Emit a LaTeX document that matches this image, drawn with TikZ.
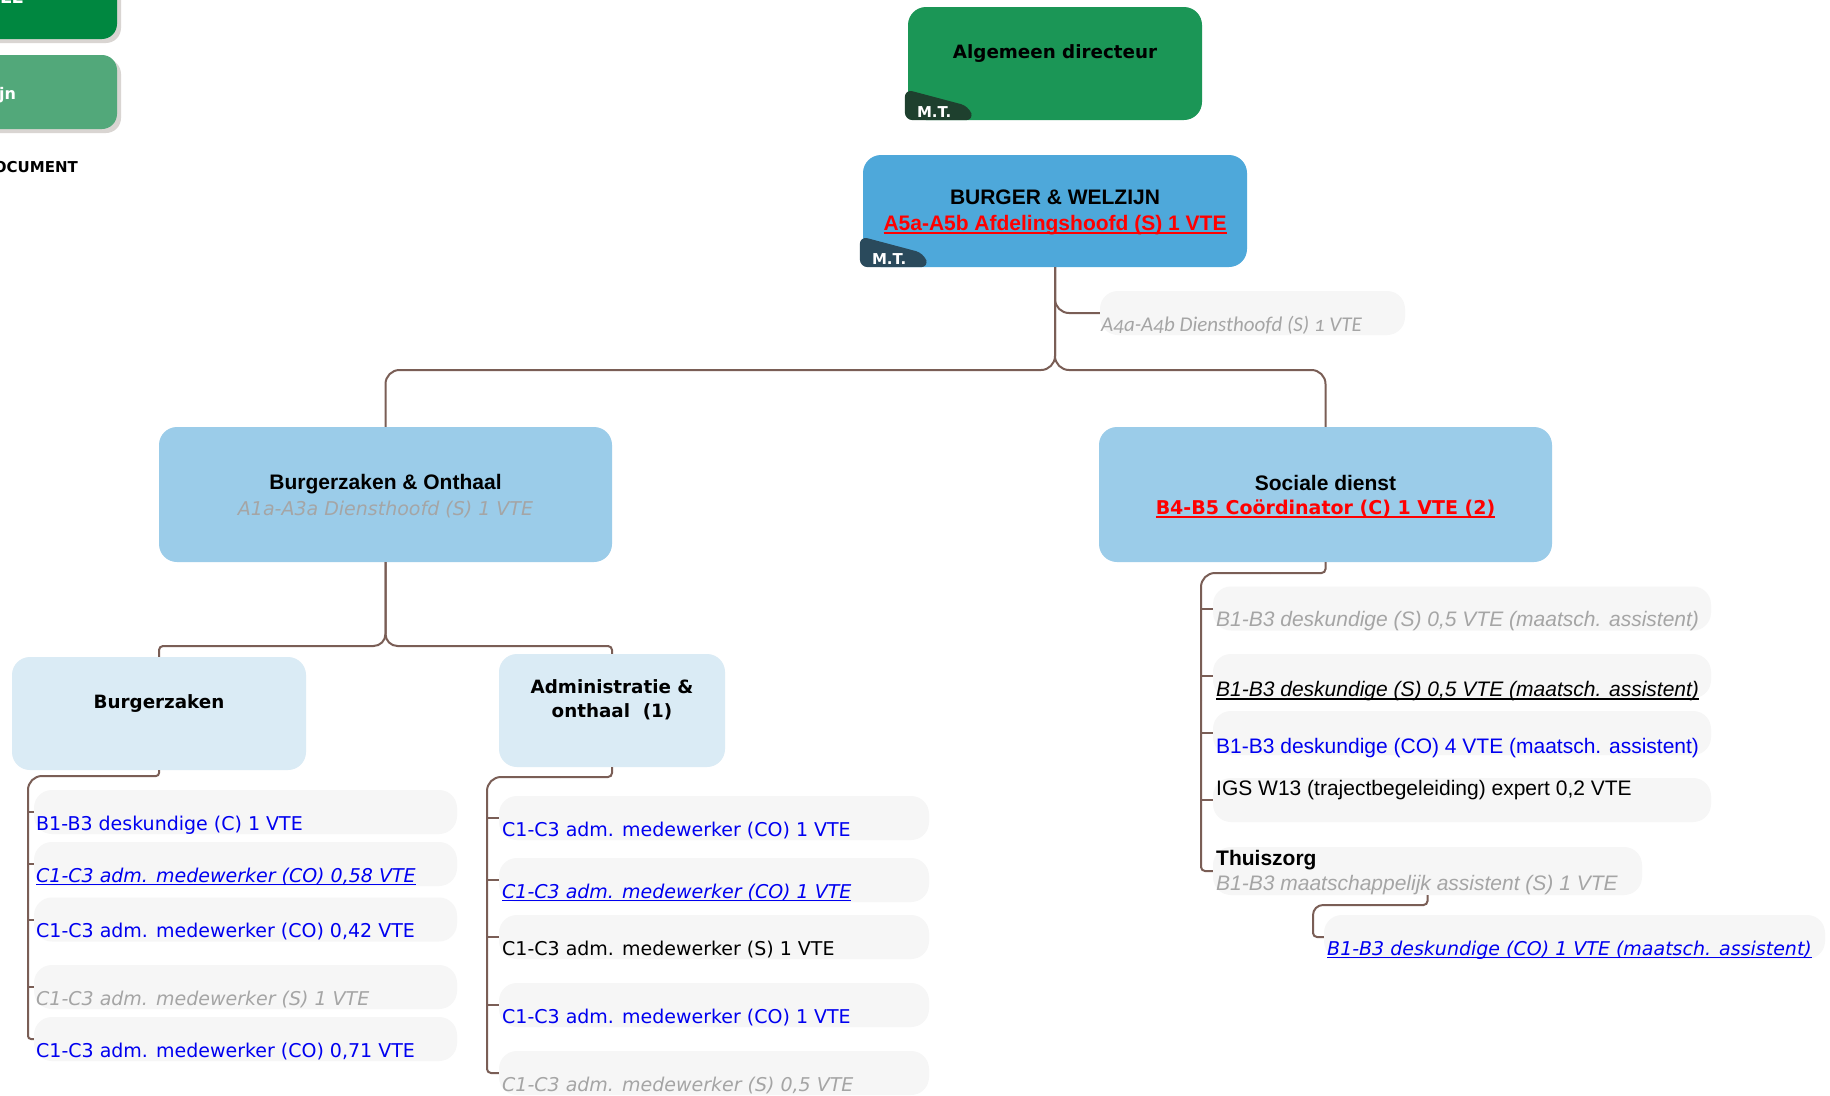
\documentclass[tikz,border=0pt]{standalone}
\usepackage{fontspec}

\newfontfamily\arialfont{Liberation Sans}
\newfontfamily\verdanafont{DejaVu Sans}
\newfontfamily\calibrifont[Numbers=OldStyle]{Carlito}

\definecolor{adgreen}{RGB}{27,150,86}
\definecolor{legenddark}{RGB}{0,135,64}
\definecolor{legendlight}{RGB}{82,168,122}
\definecolor{legendshadow}{RGB}{217,213,210}
\definecolor{badgegreen}{RGB}{30,64,46}
\definecolor{badgeblue}{RGB}{42,74,92}
\definecolor{bwblue}{RGB}{78,168,218}
\definecolor{deptblue}{RGB}{155,204,233}
\definecolor{unitblue}{RGB}{218,235,245}
\definecolor{itemgrey}{RGB}{246,246,246}
\definecolor{linkbrown}{RGB}{122,94,86}
\definecolor{vteblue}{RGB}{0,0,240}
\definecolor{vtegrey}{RGB}{165,165,165}
\definecolor{vtered}{RGB}{255,0,0}

% underline close to the baseline
\newsavebox\ulbox
\newcommand{\ulined}[1]{\sbox\ulbox{#1}\rlap{\rule[-3.3pt]{\wd\ulbox}{1.6pt}}\usebox\ulbox}

\begin{document}
\begin{tikzpicture}[x=1pt, y=-1pt,
    legendbox/.style={rectangle, rounded corners=15pt, inner sep=0pt},
    adbox/.style={rectangle, fill=adgreen, rounded corners=18pt, minimum width=294pt, minimum height=113pt, inner sep=0pt},
    bwbox/.style={rectangle, fill=bwblue, rounded corners=18pt, minimum width=384pt, minimum height=112pt, inner sep=0pt},
    deptbox/.style={rectangle, fill=deptblue, rounded corners=18pt, minimum width=453pt, minimum height=135pt, inner sep=0pt},
    unitbox/.style={rectangle, fill=unitblue, rounded corners=18pt, minimum height=113pt, inner sep=0pt},
    itembox/.style={rectangle, fill=itemgrey, rounded corners=18pt, minimum height=44pt, inner sep=0pt},
    link/.style={draw=linkbrown, line width=2pt},
    adtitle/.style={font=\verdanafont\bfseries\fontsize{18.3}{22}\selectfont, anchor=base, inner sep=0pt},
    deptitle/.style={font=\arialfont\bfseries\fontsize{21}{25}\selectfont, anchor=base, inner sep=0pt},
    badgetext/.style={font=\verdanafont\bfseries\fontsize{15}{18}\selectfont, text=white, anchor=base west, inner sep=0pt},
    vitem/.style={font=\verdanafont\fontsize{19}{23}\selectfont, anchor=base west, inner sep=0pt},
    aitem/.style={font=\arialfont\fontsize{21}{25}\selectfont, anchor=base west, inner sep=0pt},
    calitem/.style={font=\calibrifont\fontsize{21}{25}\selectfont, anchor=base west, inner sep=0pt}
]
\useasboundingbox (0,0) rectangle (1830,1095);
\fill[white] (0,0) rectangle (1830,1095);

% Legend (cut off at the left)
\fill[legendshadow, rounded corners=15pt] (-40,-30) rectangle (121,43);
\node[legendbox, fill=legenddark, minimum width=157pt, minimum height=69pt] (legtop) at (38.5,4.5) {};
\node[badgetext, font=\verdanafont\bfseries\fontsize{18}{22}\selectfont] (legtopt) at (0,3) {LL};
\fill[legendshadow, rounded corners=15pt] (-40,59) rectangle (121,133);
\node[legendbox, fill=legendlight, minimum width=157pt, minimum height=74pt] (legmid) at (38.5,92) {};
\node[badgetext, font=\verdanafont\bfseries\fontsize{16}{20}\selectfont] (legmidt) at (-1,99) {jn};
\node[adtitle, font=\verdanafont\bfseries\fontsize{15}{18}\selectfont, anchor=base east] (legdoc) at (78,172.5) {OCUMENT};

% Top of the chart
\node[adbox] (ad) at (1055,63.5) {};
\node[adtitle] (adt) at (1055,58.7) {Algemeen directeur};
\fill[badgegreen, rounded corners=8pt] ([xshift=-3pt]ad.south west) -- ++(0,-31) -- ++(64,17) -- ++(5,14) -- cycle;
\node[badgetext] (admt) at ([xshift=9pt,yshift=3pt]ad.south west) {M.T.};

\node[bwbox] (bw) at (1055,211) {};
\node[deptitle] (bwt) at (1055,204.6) {BURGER \& WELZIJN};
\node[deptitle, text=vtered] (bwr) at (1055,230.6) {\ulined{A5a-A5b Afdelingshoofd (S) 1 VTE}};
\fill[badgeblue, rounded corners=8pt] ([xshift=-3pt]bw.south west) -- ++(0,-31) -- ++(64,17) -- ++(5,14) -- cycle;
\node[badgetext] (bwmt) at ([xshift=9pt,yshift=3pt]bw.south west) {M.T.};

\node[itembox, minimum width=305pt] (a4) at (1252.5,313) {};
\node[calitem, text=vtegrey] (a4t) at (1101,331) {\itshape A4a-A4b Diensthoofd (S) 1 VTE};

% Departments
\node[deptbox] (bo) at (385.5,494.5) {};
\node[deptitle] (bot) at (385.5,489.6) {Burgerzaken \& Onthaal};
\node[vitem, anchor=base, text=vtegrey] (bos) at (385.5,515) {\itshape A1a-A3a Diensthoofd (S) 1 VTE};

\node[deptbox] (sd) at (1325.5,494.5) {};
\node[deptitle] (sdt) at (1325.5,490.6) {Sociale dienst};
\node[adtitle, font=\verdanafont\bfseries\fontsize{19}{23}\selectfont, text=vtered] (sdr) at (1325.5,514.5) {\ulined{B4-B5 Coördinator (C) 1 VTE (2)}};

% Units
\node[unitbox, minimum width=294pt] (bz) at (159,713.5) {};
\node[adtitle] (bzt) at (159,708.5) {Burgerzaken};
\node[unitbox, minimum width=226pt] (adm) at (612,710.5) {};
\node[adtitle] (admt1) at (612,693.5) {Administratie \&};
\node[adtitle] (admt2) at (612,717.5) {onthaal\ \ (1)};

% Burgerzaken staff
\node[itembox, minimum width=423pt] (bzA) at (245.5,812) {};
\node[itembox, minimum width=423pt] (bzB) at (245.5,864) {};
\node[itembox, minimum width=423pt] (bzC) at (245.5,919.5) {};
\node[itembox, minimum width=423pt] (bzD) at (245.5,987) {};
\node[itembox, minimum width=423pt] (bzE) at (245.5,1039) {};
\node[vitem, text=vteblue] (bzAt) at (36,830) {B1-B3 deskundige (C) 1 VTE};
\node[vitem, text=vteblue] (bzBt) at (36,882) {\itshape\ulined{C1-C3 adm. medewerker (CO) 0,58 VTE}};
\node[vitem, text=vteblue] (bzCt) at (36,937) {C1-C3 adm. medewerker (CO) 0,42 VTE};
\node[vitem, text=vtegrey] (bzDt) at (36,1005) {\itshape C1-C3 adm. medewerker (S) 1 VTE};
\node[vitem, text=vteblue] (bzEt) at (36,1057) {C1-C3 adm. medewerker (CO) 0,71 VTE};

% Administratie staff
\node[itembox, minimum width=430pt] (admA) at (714,818) {};
\node[itembox, minimum width=430pt] (admB) at (714,880) {};
\node[itembox, minimum width=430pt] (admC) at (714,937) {};
\node[itembox, minimum width=430pt] (admD) at (714,1005) {};
\node[itembox, minimum width=430pt] (admE) at (714,1073) {};
\node[vitem, text=vteblue] (admAt) at (502,836) {C1-C3 adm. medewerker (CO) 1 VTE};
\node[vitem, text=vteblue] (admBt) at (502,898) {\itshape\ulined{C1-C3 adm. medewerker (CO) 1 VTE}};
\node[vitem] (admCt) at (502,955) {C1-C3 adm. medewerker (S) 1 VTE};
\node[vitem, text=vteblue] (admDt) at (502,1023) {C1-C3 adm. medewerker (CO) 1 VTE};
\node[vitem, text=vtegrey] (admEt) at (502,1091) {\itshape C1-C3 adm. medewerker (S) 0,5 VTE};

% Sociale dienst staff
\node[itembox, minimum width=498pt] (sdA) at (1462,608.5) {};
\node[itembox, minimum width=498pt] (sdB) at (1462,676) {};
\node[itembox, minimum width=498pt] (sdC) at (1462,733) {};
\node[itembox, minimum width=498pt] (sdD) at (1462,800) {};
\node[aitem, text=vtegrey] (sdAt) at (1216,626.5) {\itshape B1-B3 deskundige (S) 0,5 VTE (maatsch. assistent)};
\node[aitem] (sdBt) at (1216,696.5) {\itshape\ulined{B1-B3 deskundige (S) 0,5 VTE (maatsch. assistent)}};
\node[aitem, text=vteblue] (sdCt) at (1216,753.5) {B1-B3 deskundige (CO) 4 VTE (maatsch. assistent)};
\node[aitem] (sdDt) at (1216,795.5) {IGS W13 (trajectbegeleiding) expert 0,2 VTE};

\node[itembox, minimum width=429pt, minimum height=48pt] (tz) at (1427.5,871) {};
\node[aitem, font=\arialfont\bfseries\fontsize{21}{25}\selectfont] (tzt) at (1216,865.5) {Thuiszorg};
\node[aitem, text=vtegrey] (tzs) at (1216,890.5) {\itshape B1-B3 maatschappelijk assistent (S) 1 VTE};
\node[itembox, minimum width=501pt] (sub) at (1574.5,937) {};
\node[vitem, text=vteblue] (subt) at (1327,955) {\itshape\ulined{B1-B3 deskundige (CO) 1 VTE (maatsch. assistent)}};

% Connectors
\coordinate (split) at (1055,370);
\draw[link, rounded corners=14pt] (bw.south) |- (a4.west);
\draw[link, rounded corners=14pt] (bw.south) -- (split) -| (bo.north);
\draw[link, rounded corners=14pt] (bw.south) -- (split) -| (sd.north);

\coordinate (bzjoin) at (250,646);
\coordinate (admjoin) at (520,646);
\draw[link, rounded corners=12pt] (bo.south) |- (bzjoin);
\draw[link, rounded corners=4pt] (bzjoin) -| (bz.north);
\draw[link, rounded corners=12pt] (bo.south) |- (admjoin);
\draw[link, rounded corners=4pt] (admjoin) -| (adm.north);

\coordinate (bzknee) at (100,776);
\coordinate (bzspine) at (28,900);
\draw[link, rounded corners=3pt] (bz.south) |- (bzknee);
\draw[link, rounded corners=14pt] (bzknee) -| (bzspine);
\draw[link, rounded corners=3pt] (bzspine) |- (bzE.west);
\foreach \n in {bzA,bzB,bzC,bzD}
    \draw[link] (bzspine |- \n.west) -- (\n.west);

\coordinate (admknee) at (560,777);
\coordinate (admspine) at (487,950);
\draw[link, rounded corners=4pt] (adm.south) |- (admknee);
\draw[link, rounded corners=14pt] (admknee) -| (admspine);
\draw[link, rounded corners=4pt] (admspine) |- (admE.west);
\foreach \n in {admA,admB,admC,admD}
    \draw[link] (admspine |- \n.west) -- (\n.west);

\coordinate (sdknee) at (1270,573);
\coordinate (sdspine) at (1201,700);
\draw[link, rounded corners=4pt] (sd.south) |- (sdknee);
\draw[link, rounded corners=14pt] (sdknee) -| (sdspine);
\draw[link, rounded corners=4pt] (sdspine) |- (tz.west);
\foreach \n in {sdA,sdB,sdC,sdD}
    \draw[link] (sdspine |- \n.west) -- (\n.west);

\coordinate (tzknee) at (1370,905);
\coordinate (tzspine) at (1313,920);
\draw[link, rounded corners=4pt] (tz.south) |- (tzknee);
\draw[link, rounded corners=10pt] (tzknee) -| (tzspine);
\draw[link, rounded corners=4pt] (tzspine) |- (sub.west);

\end{tikzpicture}
\end{document}
